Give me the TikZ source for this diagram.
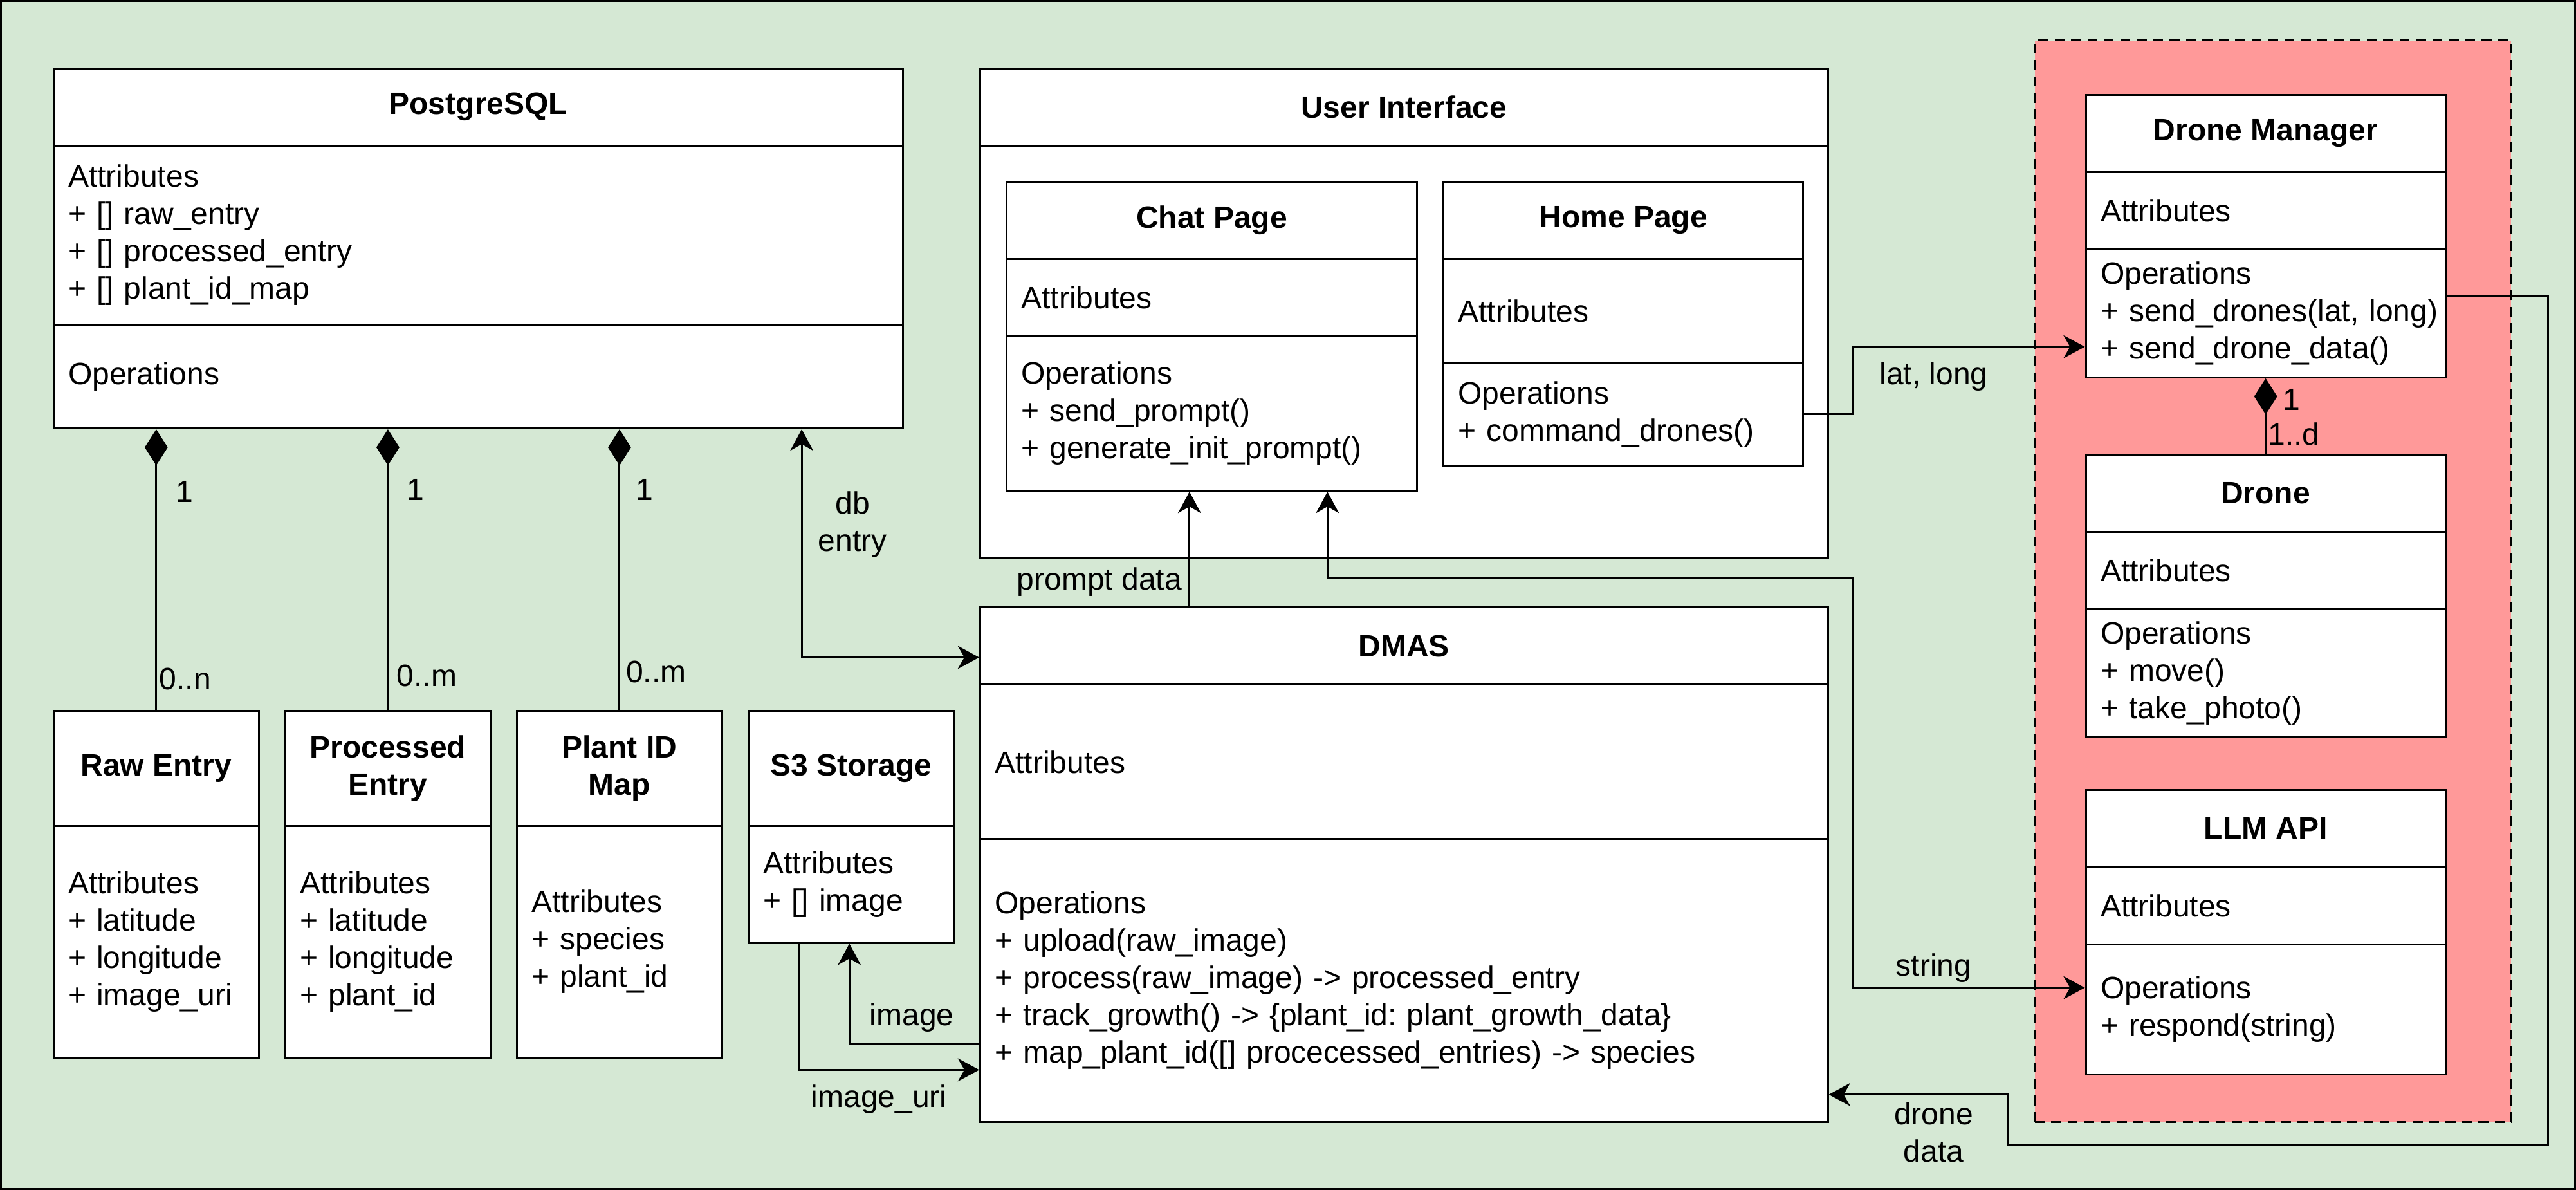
\documentclass[tikz,border=0pt]{standalone}
\usepackage{fontspec}
\setmainfont{Liberation Sans}
\usetikzlibrary{arrows.meta}
\definecolor{bggreen}{HTML}{D5E8D4}
\definecolor{groupred}{HTML}{FF9999}
\frenchspacing

\begin{document}
\begin{tikzpicture}[x=1pt, y=-1pt, line width=1.2pt,
    >={Stealth[length=13pt,width=14pt,inset=4pt]},
    head/.style={draw, fill=white, anchor=north west, inner sep=0pt, align=center,
        font=\fontsize{18.8}{22.7}\selectfont\bfseries},
    part/.style={draw, fill=white, anchor=north west, inner xsep=9pt, inner ysep=0pt, align=left,
        font=\fontsize{18.8}{22.7}\selectfont},
    comp/.style={{Diamond[length=22pt,width=14pt]}-},
    lbl/.style={inner sep=0pt, align=center, font=\fontsize{18.8}{22.7}\selectfont}]

    \useasboundingbox (0,0) rectangle (1568,724);
    \draw[fill=bggreen] (0.6,0.6) rectangle (1567.4,723.4);

    % Drone group {dronegroup}
    \node [draw, dash pattern=on 6pt off 4pt, fill=groupred, anchor=north west, inner sep=0pt,
           minimum width=290, minimum height=658] (dronegroup) at (1238,24) {};

    % Nodes {pg, raw, proc, plant, s3}
    \node [head, minimum width=517, minimum height=47]   (pg)      at (32,41)   {PostgreSQL};
    \node [part, minimum height=109, text width=499pt]   (pgattr)  at (32,88)   {Attributes\\+ [] raw\_entry\\+ [] processed\_entry\\+ [] plant\_id\_map};
    \node [part, minimum height=63, text width=499pt]    (pgops)   at (32,197)  {Operations};

    \node [head, minimum width=125, minimum height=70]   (raw)     at (32,432)  {Raw Entry};
    \node [part, minimum height=141, text width=107pt]   (rawattr) at (32,502)  {Attributes\\+ latitude\\+ longitude\\+ image\_uri};

    \node [head, minimum width=125, minimum height=70]   (proc)    at (173,432) {Processed\\Entry};
    \node [part, minimum height=141, text width=107pt]   (procattr) at (173,502) {Attributes\\+ latitude\\+ longitude\\+ plant\_id};

    \node [head, minimum width=125, minimum height=70]   (plant)   at (314,432) {Plant ID\\Map};
    \node [part, minimum height=141, text width=107pt]   (plantattr) at (314,502) {Attributes\\+ species\\+ plant\_id};

    \node [head, minimum width=125, minimum height=70]   (s3)      at (455,432) {S3 Storage};
    \node [part, minimum height=71, text width=107pt]    (s3attr)  at (455,502) {Attributes\\+ [] image};

    % Nodes {ui, chat, home}
    \node [head, minimum width=516, minimum height=47]   (ui)      at (596,41)  {User Interface};
    \node [part, minimum height=251, text width=498pt]   (uibody)  at (596,88)  {};

    \node [head, minimum width=250, minimum height=47]   (chat)    at (612,110) {Chat Page};
    \node [part, minimum height=47, text width=232pt]    (chatattr) at (612,157) {Attributes};
    \node [part, minimum height=94, text width=232pt]    (chatops) at (612,204) {Operations\\+ send\_prompt()\\+ generate\_init\_prompt()};

    \node [head, minimum width=219, minimum height=47]   (home)    at (878,110) {Home Page};
    \node [part, minimum height=63, text width=201pt]    (homeattr) at (878,157) {Attributes};
    \node [part, minimum height=63, text width=201pt]    (homeops) at (878,220) {Operations\\+ command\_drones()};

    % Nodes {dmas}
    \node [head, minimum width=516, minimum height=47]   (dmas)    at (596,369) {DMAS};
    \node [part, minimum height=94, text width=498pt]    (dmasattr) at (596,416) {Attributes};
    \node [part, minimum height=172, text width=498pt]   (dmasops) at (596,510) {Operations\\+ upload(raw\_image)\\+ process(raw\_image) -> processed\_entry\\+ track\_growth() -> \{plant\_id: plant\_growth\_data\}\\+ map\_plant\_id([] procecessed\_entries) -> species};

    % Nodes {dm, drone, llm}
    \node [head, minimum width=219, minimum height=47]   (dm)      at (1269,57) {Drone Manager};
    \node [part, minimum height=47, text width=201pt]    (dmattr)  at (1269,104) {Attributes};
    \node [part, minimum height=78, text width=201pt]    (dmops)   at (1269,151) {Operations\\+~send\_drones(lat,~long)\\+ send\_drone\_data()};

    \node [head, minimum width=219, minimum height=47]   (drone)   at (1269,276) {Drone};
    \node [part, minimum height=47, text width=201pt]    (droneattr) at (1269,323) {Attributes};
    \node [part, minimum height=78, text width=201pt]    (droneops) at (1269,370) {Operations\\+ move()\\+ take\_photo()};

    \node [head, minimum width=219, minimum height=47]   (llm)     at (1269,480) {LLM API};
    \node [part, minimum height=47, text width=201pt]    (llmattr) at (1269,527) {Attributes};
    \node [part, minimum height=79, text width=201pt]    (llmops)  at (1269,574) {Operations\\+ respond(string)};

    % Bends
    \coordinate (dbturn)   at (488,400);
    \coordinate (promptft) at (724,369);
    \coordinate (strtop)   at (808,352);
    \coordinate (strlow)   at (1128,601);
    \coordinate (uriturn)  at (486,651);
    \coordinate (imgturn)  at (517,635);
    \coordinate (latturn)  at (1128,211);
    \coordinate (ddright)  at (1551,180);
    \coordinate (ddlow)    at (1222,697);
    \coordinate (ddup)     at (1222,666);

    % Paths
    \draw [comp]  (pgops.south -| raw.north) -- (raw.north);
    \draw [comp]  (pgops.south -| proc.north) -- (proc.north);
    \draw [comp]  (pgops.south -| plant.north) -- (plant.north);
    \draw [comp]  (dmops.south) -- (drone.north);
    \draw [<->]   (pgops.south -| dbturn) -- (dbturn) -- (dbturn -| dmas.west);
    \draw [->]    (promptft) -- (promptft |- chatops.south);
    \draw [<->]   (strtop |- chatops.south) -- (strtop) -- (strtop -| strlow) -- (strlow) -- (strlow -| llmops.west);
    \draw [->]    (uriturn |- s3attr.south) -- (uriturn) -- (uriturn -| dmasops.west);
    \draw [->]    (imgturn -| dmasops.west) -- (imgturn) -- (imgturn |- s3attr.south);
    \draw [->]    (homeops.east) -| (latturn) -- (latturn -| dmops.west);
    \draw [->]    (ddright -| dmops.east) -- (ddright) |- (ddlow) -- (ddup) -- (ddup -| dmasops.east);

    % Labels
    \node [lbl, anchor=west] (m1)  at (106.5,299) {1};
    \node [lbl, anchor=west] (m2)  at (247,298)   {1};
    \node [lbl, anchor=west] (m3)  at (386.5,298) {1};
    \node [lbl, anchor=west] (n1)  at (96.5,413)  {0..n};
    \node [lbl, anchor=west] (n2)  at (241,411)   {0..m};
    \node [lbl, anchor=west] (n3)  at (380.5,409) {0..m};
    \node [lbl, anchor=west] (m4)  at (1389,243)  {1};
    \node [lbl, anchor=west] (n4)  at (1380,264)  {1..d};
    \node [lbl]               (dblbl)     at (519,319)  {db\\entry};
    \node [lbl, anchor=east]  (promptlbl) at (720,354)  {prompt data};
    \node [lbl]               (strlbl)    at (1177,589) {string};
    \node [lbl]               (urilbl)    at (535,669)  {image\_uri};
    \node [lbl]               (imglbl)    at (555,619)  {image};
    \node [lbl]               (latlbl)    at (1177,229) {lat, long};
    \node [lbl]               (ddlbl)     at (1177,689) {drone\\data};

\end{tikzpicture}
\end{document}
